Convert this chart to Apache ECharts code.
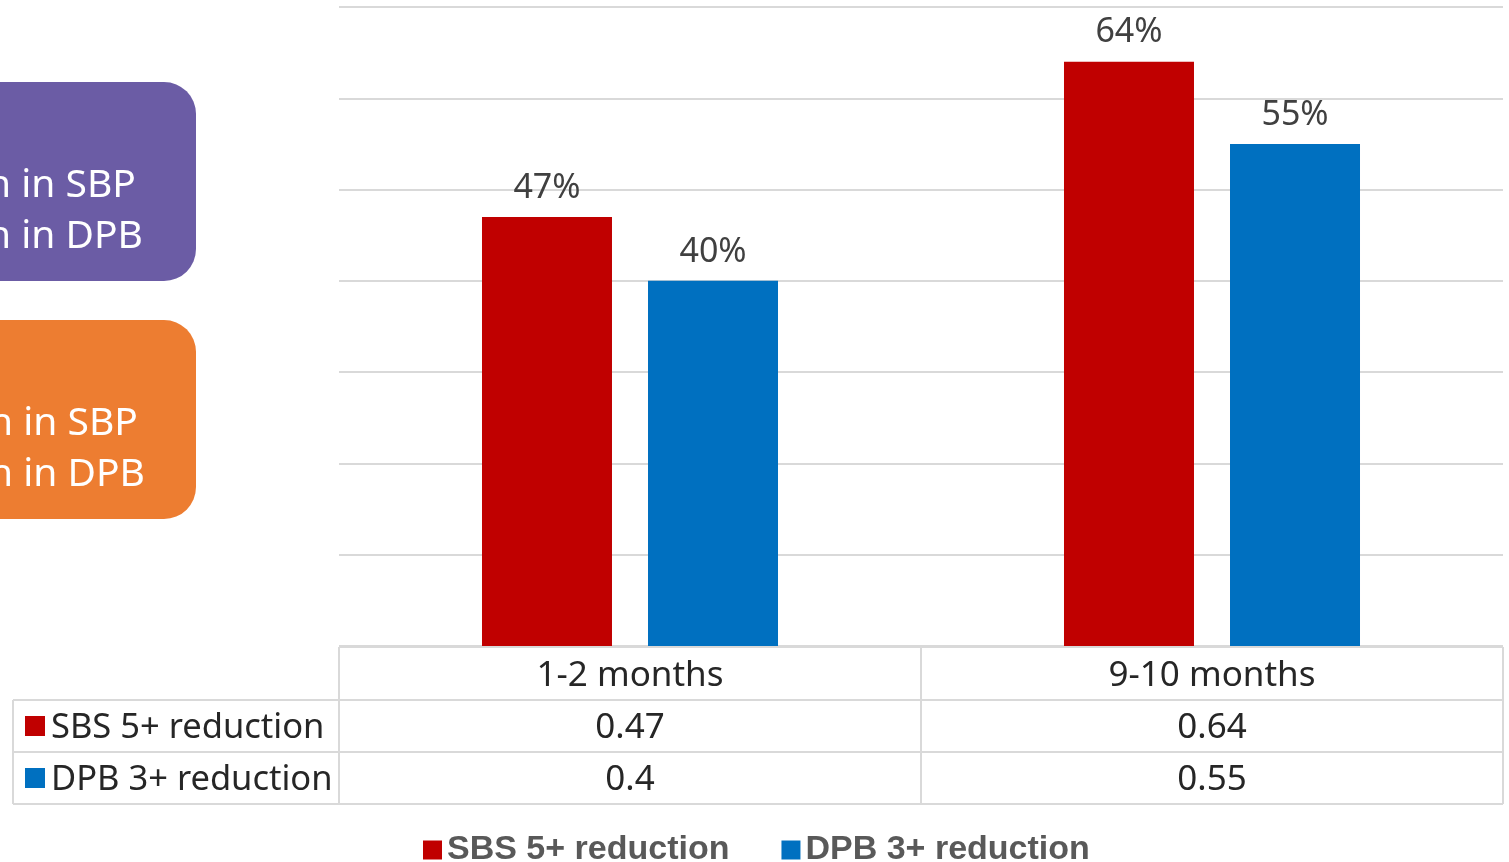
<!DOCTYPE html>
<html><head><meta charset="utf-8">
<script src="https://cdn.jsdelivr.net/npm/echarts@6/dist/echarts.min.js"></script>
<style>html,body{margin:0;padding:0;background:#fff;overflow:hidden}#c{width:1509px;height:862px}</style>
</head><body><div id="c"></div>
<script>
const categories = ['1-2 months', '9-10 months'];
const seriesNames = ['SBS 5+ reduction', 'DPB 3+ reduction'];
const sbsValues = [0.47, 0.64];
const dpbValues = [0.40, 0.55];
const seriesColors = ['#C00000', '#0070C0'];
const purpleBoxLines = ['n in SBP', 'n in DPB'];
const orangeBoxLines = ['n in SBP', 'n in DPB'];

const FONT = '"Noto Sans", "Liberation Sans", sans-serif';
const chart = echarts.init(document.getElementById('c'), null, {renderer: 'canvas'});

const pct = p => Math.round(p.value * 100) + '%';
const labelCfg = {show: true, position: 'top', distance: 12, formatter: pct,
  color: '#404040', fontSize: 34, fontFamily: FONT};

chart.setOption({
  animation: false,
  backgroundColor: '#fff',
  grid: {left: 339, right: 6, top: 7, bottom: 216, containLabel: false},
  xAxis: {type: 'category', data: categories,
    axisLine: {show: false}, axisTick: {show: false}, axisLabel: {show: false}},
  yAxis: {type: 'value', min: 0, max: 0.7, interval: 0.1,
    axisLabel: {show: false}, axisLine: {show: false}, axisTick: {show: false},
    splitLine: {lineStyle: {color: '#d9d9d9', width: 2}}},
  legend: {left: 418, top: 828, itemWidth: 19, itemHeight: 19, itemGap: 52, icon: 'rect',
    data: seriesNames,
    textStyle: {fontFamily: '"Liberation Sans Narrow", "Liberation Sans", sans-serif', fontWeight: 'bold',
      fontSize: 34, color: '#595959', padding: [0, 0, 0, 0]}},
  series: [
    {name: seriesNames[0], type: 'bar', data: sbsValues, barWidth: 130, barGap: '27.7%',
      itemStyle: {color: seriesColors[0]}, label: labelCfg},
    {name: seriesNames[1], type: 'bar', data: dpbValues, barWidth: 130,
      itemStyle: {color: seriesColors[1]}, label: labelCfg}
  ]
});

// Build the data table and side boxes, positioned through the chart's scales
const c0 = chart.convertToPixel({xAxisIndex: 0}, categories[0]);
const c1 = chart.convertToPixel({xAxisIndex: 0}, categories[1]);
const band = c1 - c0;
const xLeft = c0 - band / 2;
const xRight = xLeft + band * categories.length;
const yBase = chart.convertToPixel({yAxisIndex: 0}, 0);
const rowH = 52;
const headTop = yBase + 1;
const r1 = headTop + 53, r2 = r1 + rowH, r3 = r2 + rowH;
const tableLeft = 13;
const lineStyle = {stroke: '#d9d9d9', lineWidth: 2};
const txt = {fontFamily: FONT, fontSize: 35, fill: '#262626'};
const txtRow = {fontFamily: FONT, fontSize: 34.5, fill: '#262626'};

const g = [];
const hline = (x1, x2, y) => g.push({type: 'line', shape: {x1, y1: y, x2, y2: y}, style: lineStyle, silent: true});
const vline = (x, y1, y2) => g.push({type: 'line', shape: {x1: x, y1, x2: x, y2}, style: lineStyle, silent: true});
hline(xLeft, xRight, headTop);
hline(tableLeft, xRight, r1);
hline(tableLeft, xRight, r2);
hline(tableLeft, xRight, r3);
vline(tableLeft, r1, r3);
for (let i = 0; i <= categories.length; i++) vline(xLeft + band * i, headTop, r3);

categories.forEach((cat, i) => {
  const cx = chart.convertToPixel({xAxisIndex: 0}, cat);
  g.push({type: 'text', x: cx, y: (headTop + r1) / 2 + 3, style: Object.assign({text: cat, align: 'center', verticalAlign: 'middle'}, txt)});
  g.push({type: 'text', x: cx, y: (r1 + r2) / 2 + 2, style: Object.assign({text: String(sbsValues[i]), align: 'center', verticalAlign: 'middle'}, txt)});
  g.push({type: 'text', x: cx, y: (r2 + r3) / 2 + 2, style: Object.assign({text: String(dpbValues[i]), align: 'center', verticalAlign: 'middle'}, txt)});
});
[[r1, r2], [r2, r3]].forEach(([a, b], k) => {
  g.push({type: 'rect', shape: {x: 25, y: (a + b) / 2 - 10, width: 20, height: 20}, style: {fill: seriesColors[k]}});
  g.push({type: 'text', x: 51, y: (a + b) / 2 + 2, style: Object.assign({text: seriesNames[k], align: 'left', verticalAlign: 'middle'}, txtRow)});
});

// Side boxes (clipped at the left edge in the original)
function box(y, color, lines, tx) {
  g.push({type: 'rect', shape: {x: -80, y: y, width: 276, height: 199, r: 32}, style: {fill: color}});
  lines.forEach((l, i) => g.push({type: 'text', x: tx, y: y + 104 + i * 51,
    style: {text: l, fontFamily: FONT, fontSize: 39, fill: '#fff', align: 'left', verticalAlign: 'middle'}}));
}
box(82, '#6B5CA5', purpleBoxLines, -13);
box(320, '#ED7D31', orangeBoxLines, -11);

chart.setOption({graphic: g});
</script></body></html>
